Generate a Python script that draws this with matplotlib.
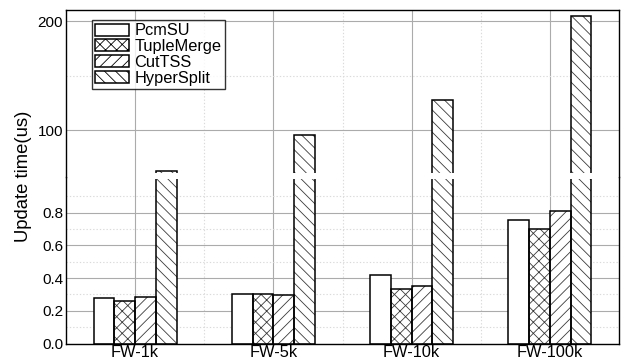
import matplotlib
matplotlib.use("Agg")
import matplotlib.pyplot as plt
import numpy as np
from matplotlib.ticker import FixedLocator
from matplotlib.patches import Patch

plt.rcParams['font.family'] = ['Liberation Sans', 'DejaVu Sans']
plt.rcParams['hatch.linewidth'] = 0.6

categories = ["FW-1k", "FW-5k", "FW-10k", "FW-100k"]
series_names = ["PcmSU", "TupleMerge", "CutTSS", "HyperSplit"]
pcmsu = [0.276, 0.301, 0.417, 0.755]
tuplemerge = [0.260, 0.301, 0.331, 0.698]
cuttss = [0.284, 0.295, 0.354, 0.812]
hypersplit = [63.0, 96.0, 127.5, 205.0]
hatches = ["", "xxx", "///", "\\\\\\"]

lower_ticks = [0.0, 0.2, 0.4, 0.6, 0.8]
lower_tick_labels = ["0.0", "0.2", "0.4", "0.6", "0.8"]
upper_ticks = [100, 200]
upper_tick_labels = ["100", "200"]

series = [pcmsu, tuplemerge, cuttss, hypersplit]

W, H = 623, 360
fig = plt.figure(figsize=(W / 100, H / 100), dpi=100)

left = 66 / W
width = 553 / W
y_bottom = 343.5
y_break = 176.5
y_top = 10
ax_lo = fig.add_axes([left, (H - y_bottom) / H, width, (y_bottom - y_break) / H])
ax_hi = fig.add_axes([left, (H - y_break) / H, width, (y_break - y_top) / H], sharex=ax_lo)

lo_lim = (0, 1.021)
hi_lim = (57.6, 210.4)

x = np.arange(len(categories))
bw = 0.15
offsets = (np.arange(len(series)) - 1.5) * bw
hatch_col = '#3a3a3a'

for ax in (ax_lo, ax_hi):
    ax.set_axisbelow(True)
    for i, (name, vals, h) in enumerate(zip(series_names, series, hatches)):
        ax.bar(x + offsets[i], vals, bw, facecolor='white', edgecolor=hatch_col,
               linewidth=0, hatch=h, zorder=2)
        ax.bar(x + offsets[i], vals, bw, facecolor='none', edgecolor='black',
               linewidth=1.1, zorder=3)
    ax.set_xlim(-0.5, len(categories) - 0.5)
    ax.xaxis.set_major_locator(FixedLocator(x))
    ax.xaxis.set_minor_locator(FixedLocator(x[:-1] + 0.5))
    ax.grid(True, which='major', axis='both', color='#ababab', linewidth=0.8, linestyle='-')
    ax.grid(True, which='minor', axis='both', color='#dadada', linewidth=0.8, linestyle=(0, (1.2, 1.8)))
    ax.tick_params(which='both', length=0, pad=2)
    ax.tick_params(axis='y', labelsize=11)
    ax.tick_params(axis='x', labelsize=11.8, pad=1)
    for s in ax.spines.values():
        s.set_linewidth(1.0)
        s.set_color('black')

ax_lo.set_ylim(*lo_lim)
ax_hi.set_ylim(*hi_lim)
ax_lo.set_yticks(lower_ticks)
ax_lo.set_yticklabels(lower_tick_labels)
ax_lo.yaxis.set_minor_locator(FixedLocator([0.1, 0.3, 0.5, 0.7, 0.9]))
ax_hi.set_yticks(upper_ticks)
ax_hi.set_yticklabels(upper_tick_labels)
ax_hi.yaxis.set_minor_locator(FixedLocator([150]))
ax_lo.spines['top'].set_visible(False)
ax_hi.spines['bottom'].set_visible(False)
ax_hi.tick_params(axis='x', labelbottom=False)
ax_lo.set_xticklabels(categories)

# break gap through the tall bars
gap_lo_val = 1.003
gap_hi_val = 60.8
xb = x + offsets[3]
ax_lo.bar(xb, lo_lim[1] - gap_lo_val, bw * 1.15, bottom=gap_lo_val, color='white',
          edgecolor='none', zorder=5)
ax_hi.bar(xb, gap_hi_val - hi_lim[0], bw * 1.15, bottom=hi_lim[0], color='white',
          edgecolor='none', zorder=5)

handles = [Patch(facecolor='white', edgecolor='black', linewidth=1.1, hatch=h)
           for h in hatches]
leg = ax_hi.legend(handles, series_names, loc='upper left',
                   bbox_to_anchor=(0.0465, 0.94), fontsize=11.8,
                   frameon=True, fancybox=False, borderpad=0.2, labelspacing=0.05,
                   handlelength=2.1, handleheight=0.75, handletextpad=0.3,
                   borderaxespad=0)
leg.get_frame().set_edgecolor('black')
leg.get_frame().set_linewidth(1.0)
leg.set_zorder(10)

fig.text(24 / W, (H - 176) / H, "Update time(us)", rotation=90, ha='center',
         va='center', fontsize=13.3)

fig.savefig("out.png", dpi=100)
